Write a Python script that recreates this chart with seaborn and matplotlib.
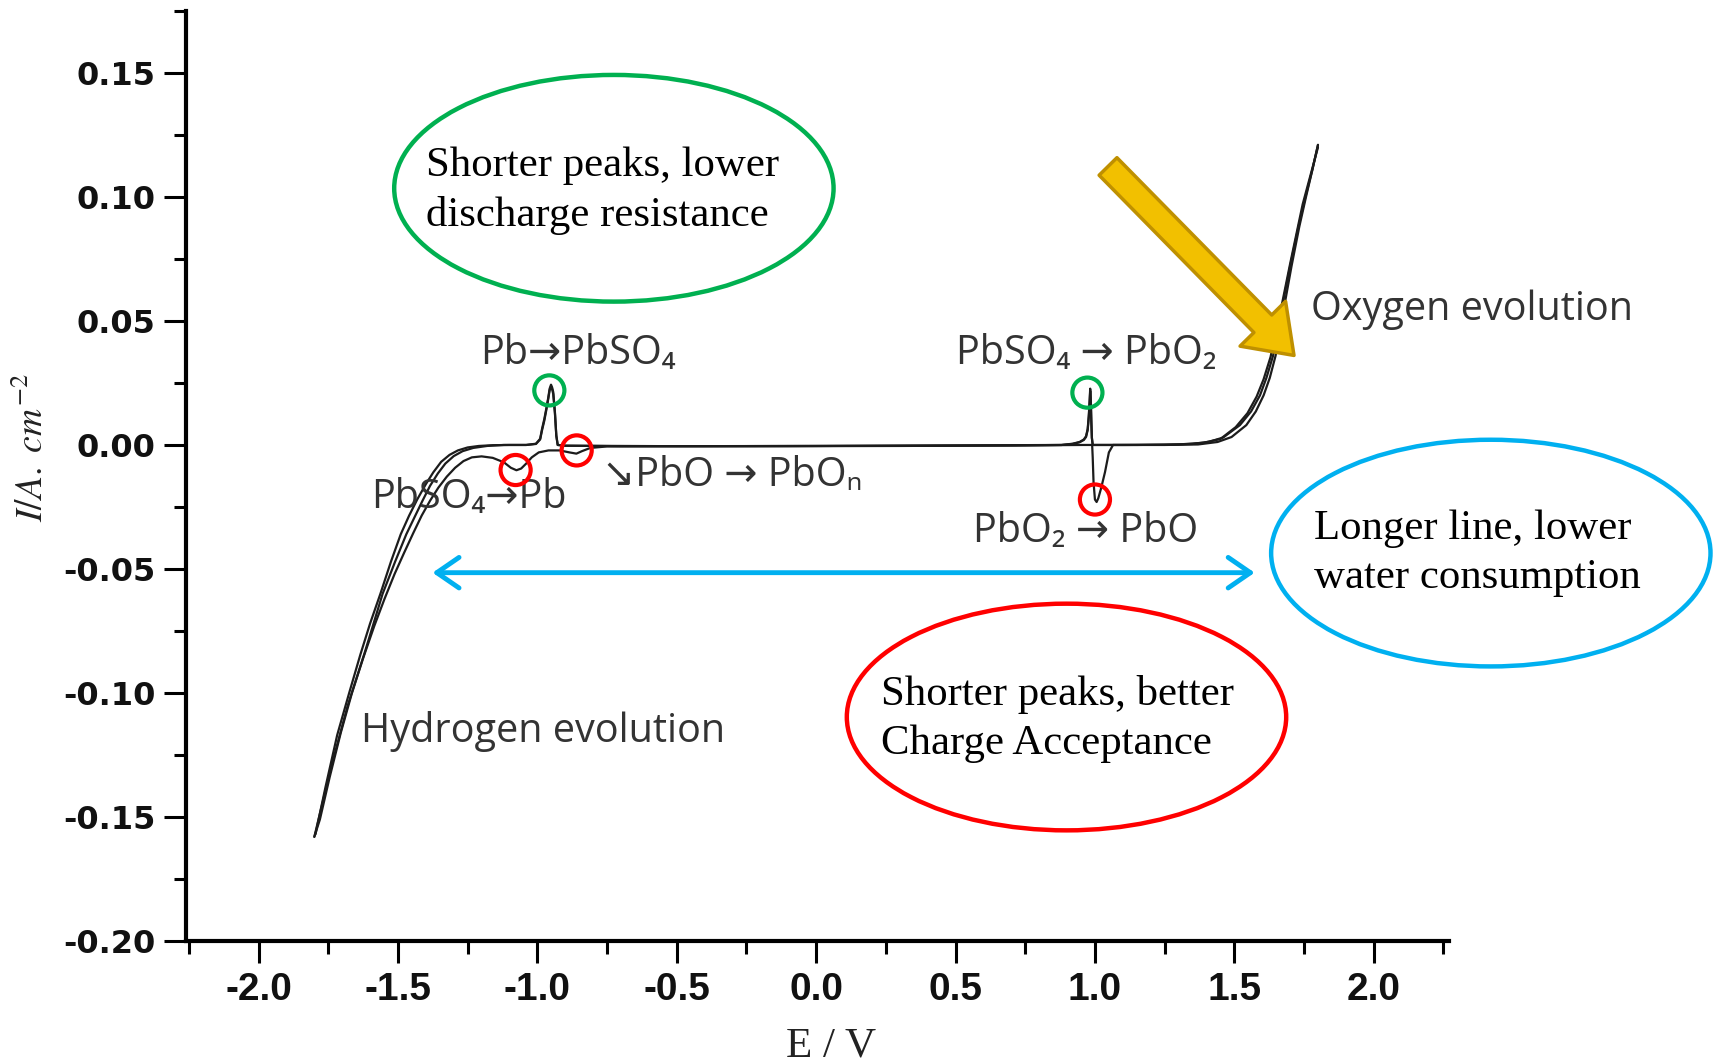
import numpy as np
import matplotlib
matplotlib.use("Agg")
import matplotlib.pyplot as plt
import seaborn as sns
from matplotlib.patches import Ellipse, FancyArrowPatch
from matplotlib.ticker import MultipleLocator, FixedLocator, FixedFormatter

sns.set_theme(style="white")
plt.rcParams["font.family"] = ["DejaVu Sans"]
plt.rcParams["axes.unicode_minus"] = False
plt.rcParams["mathtext.fontset"] = "stix"

# ---------------- data ----------------
# cycle 1, anodic scan (-1.8 V -> +1.8 V)
E_an1 = [
    -1.796, -1.760, -1.718, -1.675, -1.635, -1.600, -1.563, -1.525, -1.490, -1.460,
    -1.431, -1.400, -1.373, -1.345, -1.315, -1.285, -1.250, -1.210, -1.160, -1.100,
    -1.040, -1.005, -0.990, -0.983, -0.975, -0.968, -0.961, -0.956, -0.951, -0.947,
    -0.943, -0.937, -0.932, -0.927, -0.900, -0.700, -0.400, 0.000, 0.400, 0.700,
    0.880, 0.920, 0.945, 0.960, 0.968, 0.974, 0.978, 0.981, 0.983, 0.985,
    0.987, 0.989, 0.992, 1.000, 1.100, 1.250, 1.350, 1.410, 1.460, 1.520,
    1.560, 1.592, 1.615, 1.639, 1.655, 1.675, 1.700, 1.730, 1.755, 1.780,
    1.800]
I_an1 = [
    -0.1570, -0.1380, -0.1170, -0.1000, -0.0846, -0.0720, -0.0600, -0.0470, -0.0360, -0.0285,
    -0.0220, -0.0158, -0.0110, -0.0068, -0.0040, -0.0022, -0.0010, -0.0004, -0.0001, 0.0000,
    0.0000, 0.0005, 0.0025, 0.0066, 0.0105, 0.0146, 0.0190, 0.0227, 0.0243, 0.0232,
    0.0213, 0.0133, 0.0039, 0.0000, -0.0003, -0.0005, -0.0005, -0.0004, -0.0003, -0.0002,
    0.0000, 0.0005, 0.0012, 0.0022, 0.0035, 0.0065, 0.0120, 0.0180, 0.0227, 0.0190,
    0.0100, 0.0030, 0.0000, 0.0000, 0.0000, 0.0001, 0.0004, 0.0013, 0.0030, 0.0080,
    0.0135, 0.0200, 0.0270, 0.0360, 0.0460, 0.0577, 0.0720, 0.0880, 0.1000, 0.1110,
    0.1210]

# cycle 1, cathodic scan (+1.8 V -> -1.8 V)
E_ca1 = [
    1.800, 1.780, 1.757, 1.733, 1.705, 1.682, 1.663, 1.648, 1.627, 1.605,
    1.577, 1.543, 1.490, 1.440, 1.370, 1.250, 1.100, 1.065, 1.050, 1.036,
    1.022, 1.012, 1.006, 1.000, 0.995, 0.992, 0.990, 0.960, 0.700, 0.300,
    -0.100, -0.500, -0.750, -0.810, -0.840, -0.860, -0.885, -0.920, -0.960, -0.995,
    -1.020, -1.040, -1.058, -1.075, -1.095, -1.120, -1.160, -1.200, -1.235, -1.265,
    -1.295, -1.325, -1.355, -1.385, -1.415, -1.445, -1.478, -1.512, -1.548, -1.585,
    -1.625, -1.665, -1.705, -1.745, -1.780, -1.800]
I_ca1 = [
    0.1210, 0.1110, 0.1000, 0.0880, 0.0720, 0.0577, 0.0460, 0.0360, 0.0270, 0.0200,
    0.0135, 0.0080, 0.0032, 0.0012, 0.0002, 0.0000, 0.0000, 0.0000, -0.0030, -0.0110,
    -0.0175, -0.0215, -0.0230, -0.0220, -0.0150, -0.0050, 0.0000, 0.0000, -0.0002, -0.0004,
    -0.0005, -0.0005, -0.0006, -0.0012, -0.0025, -0.0035, -0.0030, -0.0022, -0.0022, -0.0030,
    -0.0050, -0.0075, -0.0095, -0.0102, -0.0092, -0.0070, -0.0052, -0.0046, -0.0050, -0.0065,
    -0.0092, -0.0128, -0.0172, -0.0225, -0.0285, -0.0355, -0.0435, -0.0520, -0.0620, -0.0730,
    -0.0860, -0.1000, -0.1160, -0.1340, -0.1510, -0.1580]

# cycle 2, anodic scan
E_an2 = [
    -1.800, -1.740, -1.680, -1.620, -1.555, -1.510, -1.470, -1.440, -1.412, -1.385,
    -1.357, -1.330, -1.300, -1.268, -1.230, -1.180, -1.120, -1.040, -1.005, -0.990,
    -0.983, -0.975, -0.968, -0.961, -0.956, -0.951, -0.947, -0.943, -0.937, -0.932,
    -0.927, -0.900, -0.500, 0.000, 0.500, 0.880, 0.920, 0.945, 0.960, 0.968,
    0.974, 0.978, 0.981, 0.983, 0.985, 0.987, 0.989, 0.992, 1.000, 1.150,
    1.300, 1.390, 1.450, 1.505, 1.547, 1.580, 1.605, 1.630, 1.648, 1.672,
    1.700, 1.745, 1.800]
I_an2 = [
    -0.1580, -0.1300, -0.1050, -0.0840, -0.0600, -0.0470, -0.0360, -0.0290, -0.0225, -0.0165,
    -0.0115, -0.0075, -0.0045, -0.0025, -0.0012, -0.0004, 0.0000, 0.0000, 0.0004, 0.0022,
    0.0060, 0.0098, 0.0140, 0.0185, 0.0220, 0.0236, 0.0225, 0.0205, 0.0128, 0.0036,
    0.0000, -0.0003, -0.0005, -0.0004, -0.0002, 0.0000, 0.0004, 0.0011, 0.0020, 0.0032,
    0.0060, 0.0112, 0.0170, 0.0218, 0.0180, 0.0095, 0.0028, 0.0000, 0.0000, 0.0000,
    0.0002, 0.0009, 0.0024, 0.0072, 0.0128, 0.0195, 0.0265, 0.0355, 0.0455, 0.0575,
    0.0730, 0.0970, 0.1200]

x_ticks = [-2.0, -1.5, -1.0, -0.5, 0.0, 0.5, 1.0, 1.5, 2.0]
x_tick_labels = ["-2.0", "-1.5", "-1.0", "-0.5", "0.0", "0.5", "1.0", "1.5", "2.0"]
y_ticks = [-0.20, -0.15, -0.10, -0.05, 0.00, 0.05, 0.10, 0.15]
y_tick_labels = ["-0.20", "-0.15", "-0.10", "-0.05", "0.00", "0.05", "0.10", "0.15"]

# highlighted peaks (small circles)
green_E = [-0.957, 0.973]
green_I = [0.0220, 0.0211]
red_E = [-1.078, -0.859, 1.000]
red_I = [-0.0101, -0.0022, -0.0220]

# reaction labels
rx_labels = ["Pb\u2192PbSO\u2084", "PbSO\u2084\u2192Pb", "\u2198PbO \u2192 PbO\u2099",
             "PbSO\u2084 \u2192 PbO\u2082", "PbO\u2082 \u2192 PbO",
             "Oxygen evolution", "Hydrogen evolution"]
rx_E = [-0.855, -1.247, -0.302, 0.969, 0.965, 2.353, -0.980]
rx_I = [0.0366, -0.0211, -0.0123, 0.0366, -0.0348, 0.0546, -0.1154]

# comment ellipses
note_texts = ["Shorter peaks, lower\ndischarge resistance",
              "Longer line, lower\nwater consumption",
              "Shorter peaks, better\nCharge Acceptance"]
note_colors = ["#00B050", "#00B0F0", "#FF0000"]
note_center_E = [-0.7255, 2.420, 0.898]
note_center_I = [0.1035, -0.0436, -0.1097]
note_text_E = [-1.400, 1.784, 0.231]
note_text_I = [0.1026, -0.0436, -0.1106]

# ---------------- figure ----------------
fig = plt.figure(figsize=(17.15, 10.63), dpi=100)
fig.patch.set_facecolor("white")
ax = fig.add_axes([0.1085, 0.1148, 0.7364, 0.8749])
ax.set_facecolor("white")

line_color = "#1c1c1c"
for E, I in [(E_an1, I_an1), (E_ca1, I_ca1), (E_an2, I_an2)]:
    sns.lineplot(x=E, y=I, sort=False, estimator=None, color=line_color,
                 linewidth=1.6, ax=ax)

ax.set_xlim(-2.26, 2.27)
ax.set_ylim(-0.20, 0.175)
ax.set_xlabel("")
ax.set_ylabel("")

for s in ["top", "right"]:
    ax.spines[s].set_visible(False)
for s in ["left", "bottom"]:
    ax.spines[s].set_linewidth(3.0)
    ax.spines[s].set_color("black")

ax.xaxis.set_major_locator(FixedLocator(x_ticks))
ax.xaxis.set_major_formatter(FixedFormatter(x_tick_labels))
ax.yaxis.set_major_locator(FixedLocator(y_ticks))
ax.yaxis.set_major_formatter(FixedFormatter(y_tick_labels))
ax.xaxis.set_minor_locator(MultipleLocator(0.25))
ax.yaxis.set_minor_locator(MultipleLocator(0.025))
ax.tick_params(which="major", direction="out", length=16, width=2.2, color="black",
               left=True, bottom=True, pad=6)
ax.tick_params(which="minor", direction="out", length=9, width=2.2, color="black",
               left=True, bottom=True)

for lab in ax.get_yticklabels():
    lab.set_fontfamily(["DejaVu Sans"])
    lab.set_fontweight("bold")
    lab.set_fontsize(23)
    lab.set_color("#111111")
for lab in ax.get_xticklabels():
    lab.set_fontfamily(["Liberation Sans Narrow", "Liberation Sans"])
    lab.set_fontweight("bold")
    lab.set_fontsize(28)
    lab.set_color("#111111")

# axis titles
fig.text(33 / 1715, 1 - 448 / 1063, r"$I/A.\ cm^{-2}$", rotation=90,
         ha="center", va="center", fontsize=27, color="#222222")
fig.text(831 / 1715, 0.006, "E / V", ha="center", va="baseline",
         fontsize=31, family=["Liberation Serif"], color="#222222")

# reaction labels
for t, e, i in zip(rx_labels, rx_E, rx_I):
    ax.text(e, i, t, ha="center", va="center", fontsize=28.5,
            family=["Open Sans", "DejaVu Sans"], color="#333333", clip_on=False)

# small circles
ax.scatter(green_E, green_I, s=470, facecolors="none", edgecolors="#00B050",
           linewidths=3.0, zorder=5)
ax.scatter(red_E, red_I, s=470, facecolors="none", edgecolors="#FF0000",
           linewidths=3.0, zorder=5)

# ellipses with comments
for t, c, cx, cy, tx, ty in zip(note_texts, note_colors, note_center_E,
                                note_center_I, note_text_E, note_text_I):
    ell = Ellipse((cx, cy), width=1.576, height=0.0914, fill=False,
                  edgecolor=c, linewidth=3.2, clip_on=False, zorder=4)
    ax.add_patch(ell)
    ax.text(tx, ty, t, ha="left", va="center", fontsize=30.8, linespacing=1.35,
            family=["Liberation Serif"], color="black", clip_on=False)

# blue double arrow
ax.annotate("", xy=(1.573, -0.0515), xytext=(-1.376, -0.0515),
            arrowprops=dict(arrowstyle="<->,head_length=0.8,head_width=0.55",
                            color="#00B0F0", lw=3.5, shrinkA=0, shrinkB=0,
                            mutation_scale=20))

# yellow block arrow
arr = FancyArrowPatch((1.047, 0.1123), (1.714, 0.0361),
                      arrowstyle="simple,head_length=32,head_width=46,tail_width=18",
                      mutation_scale=1, facecolor="#F2C000", edgecolor="#BF9000",
                      linewidth=2.5, shrinkA=0, shrinkB=0, zorder=6, clip_on=False)
ax.add_patch(arr)

fig.savefig("out.png", dpi=100, facecolor="white")
